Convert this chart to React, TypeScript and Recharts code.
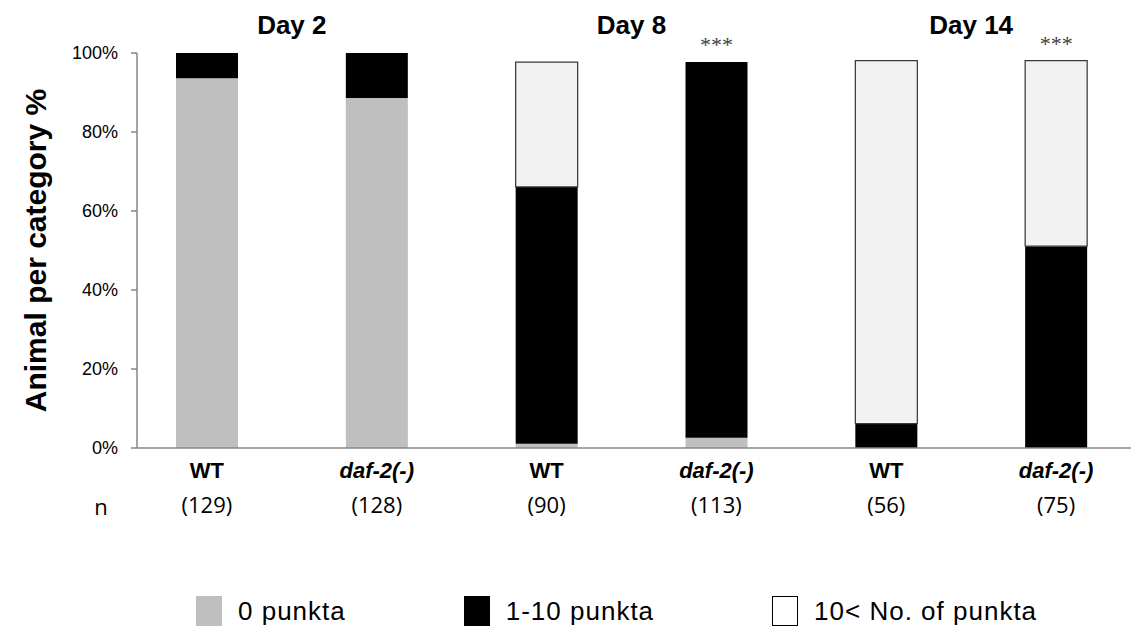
import React from 'react';
import { BarChart, Bar, XAxis, YAxis, LabelList, Legend } from 'recharts';

// Punkta categories per animal group, in percent of animals
const days = ['Day 2', 'Day 2', 'Day 8', 'Day 8', 'Day 14', 'Day 14'];
const strains = ['WT', 'daf-2(-)', 'WT', 'daf-2(-)', 'WT', 'daf-2(-)'];
const animalCounts = [129, 128, 90, 113, 56, 75];
const zeroPunkta = [93.6, 88.6, 1.1, 2.6, 0, 0];
const lowPunkta = [6.4, 11.4, 65.0, 95.1, 6.2, 51.1];
const highPunkta = [0, 0, 31.6, 0, 91.9, 47.0];
const significance = ['', '', '', '***', '', '***'];
const yTicks = [0, 20, 40, 60, 80, 100];

const series = [
  { key: 'zero', name: '0 punkta', fill: '#BFBFBF', stroke: 'none', swatch: '#BFBFBF' },
  { key: 'low', name: '1-10 punkta', fill: '#000000', stroke: 'none', swatch: '#000000' },
  { key: 'high', name: '10< No. of punkta', fill: '#F2F2F2', stroke: '#3A3A3A', swatch: '#FFFFFF' },
];

const data = strains.map((strain, i) => ({
  id: `${days[i]} ${strain}`,
  zero: zeroPunkta[i],
  low: lowPunkta[i],
  high: highPunkta[i],
  sig: significance[i],
}));

const indexOf = (value: string) => data.findIndex((d) => d.id === value);

// topmost non-empty segment of each stack carries the significance mark
const topSeriesOf = (i: number) => {
  let top = '';
  series.forEach((s) => {
    if ((data[i] as any)[s.key] > 0) top = s.key;
  });
  return top;
};

// layout
const W = 1131;
const H = 631;
const PAD_LEFT = -15;
const PAD_RIGHT = -10;
const PLOT_LEFT = 137;
const STEP = (W - PAD_RIGHT - (PLOT_LEFT + PAD_LEFT)) / data.length;

const SANS = "'Liberation Sans', Arial, sans-serif";
const COUNT_FONT = "'Open Sans', sans-serif";
const SERIF = "'Liberation Serif', 'Times New Roman', serif";
const AXIS_GREY = '#868686';

const StrainTick = (props: any) => {
  const { x, y, payload } = props;
  const i = indexOf(payload.value);
  if (i < 0) return null;
  const strain = strains[i];
  return (
    <g>
      <text
        x={x}
        y={y + 30}
        textAnchor="middle"
        fontFamily={SANS}
        fontWeight="bold"
        fontStyle={strain === 'WT' ? 'normal' : 'italic'}
        fontSize={22}
        fill="#000"
      >
        {strain}
      </text>
      <text x={x} y={y + 65} textAnchor="middle" fontFamily={COUNT_FONT} fontSize={22} fill="#000">
        ({animalCounts[i]})
      </text>
    </g>
  );
};

const DayTick = (props: any) => {
  const { x, y, payload } = props;
  const i = indexOf(payload.value);
  if (i < 0 || (i > 0 && days[i] === days[i - 1])) return null;
  return (
    <text x={x + STEP / 2} y={y - 19} textAnchor="middle" fontFamily={SANS} fontWeight="bold" fontSize={26} fill="#000">
      {days[i]}
    </text>
  );
};

const makeSigLabel = (seriesKey: string) => (props: any) => {
  const { x, y, width, value } = props;
  const i = indexOf(String(value));
  if (i < 0 || topSeriesOf(i) !== seriesKey) return null;
  const mark = significance[i];
  if (!mark) return null;
  return (
    <text x={x + width / 2} y={y - 10} textAnchor="middle" fontFamily={SERIF} fontSize={22} fill="#404040">
      {mark}
    </text>
  );
};

const YTitle = (props: any) => {
  const vb = props.viewBox;
  const cx = vb.x + 46;
  const cy = vb.y + vb.height / 2;
  return (
    <text
      x={cx}
      y={cy}
      transform={`rotate(-90, ${cx}, ${cy})`}
      textAnchor="middle"
      fontFamily={SANS}
      fontWeight="bold"
      fontSize={30}
      fill="#000"
    >
      Animal per category %
    </text>
  );
};

const NLabel = (props: any) => {
  const vb = props.viewBox;
  return (
    <text x={vb.x - 36} y={vb.y + 67} textAnchor="middle" fontFamily={COUNT_FONT} fontSize={22} fill="#000">
      n
    </text>
  );
};

const LegendContent = () => (
  <div style={{ display: 'flex', alignItems: 'center', paddingLeft: 196, height: 40, whiteSpace: 'nowrap' }}>
    {series.map((s) => (
      <div key={s.key} style={{ display: 'flex', alignItems: 'center', marginRight: 118, flexShrink: 0 }}>
        <span
          style={{
            display: 'inline-block',
            width: 26,
            height: 30,
            background: s.swatch,
            border: s.stroke !== 'none' ? '1.5px solid #000' : 'none',
            boxSizing: 'border-box',
            marginRight: 16,
            flexShrink: 0,
          }}
        />
        <span
          style={{
            fontFamily: SANS,
            fontSize: 26,
            letterSpacing: 1,
            color: '#000',
            lineHeight: '30px',
            whiteSpace: 'nowrap',
          }}
        >
          {s.name}
        </span>
      </div>
    ))}
  </div>
);

export default function App() {
  return (
    <div style={{ position: 'absolute', left: 0, top: 0, width: W, height: H, background: '#fff' }}>
      <BarChart width={W} height={H} data={data} margin={{ top: 0, right: 0, bottom: 0, left: 0 }}>
        <XAxis
          xAxisId="days"
          orientation="top"
          dataKey="id"
          height={53}
          axisLine={false}
          tickLine={false}
          tickSize={0}
          tickMargin={0}
          interval={0}
          padding={{ left: PAD_LEFT, right: PAD_RIGHT }}
          tick={<DayTick />}
        />
        <XAxis
          dataKey="id"
          height={143}
          axisLine={{ stroke: AXIS_GREY, strokeWidth: 1.5 }}
          tickLine={false}
          tickSize={0}
          tickMargin={0}
          interval={0}
          padding={{ left: PAD_LEFT, right: PAD_RIGHT }}
          tick={<StrainTick />}
          label={{ content: <NLabel /> }}
        />
        <YAxis
          width={PLOT_LEFT}
          domain={[0, 100]}
          ticks={yTicks}
          interval={0}
          tickFormatter={(v: number) => `${v}%`}
          axisLine={{ stroke: AXIS_GREY, strokeWidth: 1.5 }}
          tickLine={{ stroke: AXIS_GREY, strokeWidth: 1.5 }}
          tickSize={6}
          tickMargin={13}
          tick={{ fontFamily: SANS, fontSize: 18, fill: '#000' }}
          label={{ content: <YTitle /> }}
        />
        {series.map((s) => (
          <Bar
            key={s.key}
            dataKey={s.key}
            name={s.name}
            stackId="animals"
            fill={s.fill}
            stroke={s.stroke}
            strokeWidth={s.stroke === 'none' ? 0 : 1.25}
            barSize={62}
            isAnimationActive={false}
          >
            <LabelList dataKey="id" content={makeSigLabel(s.key)} />
          </Bar>
        ))}
        <Legend
          verticalAlign="bottom"
          content={() => <LegendContent />}
          wrapperStyle={{ left: 0, bottom: 0, width: W }}
        />
      </BarChart>
    </div>
  );
}
